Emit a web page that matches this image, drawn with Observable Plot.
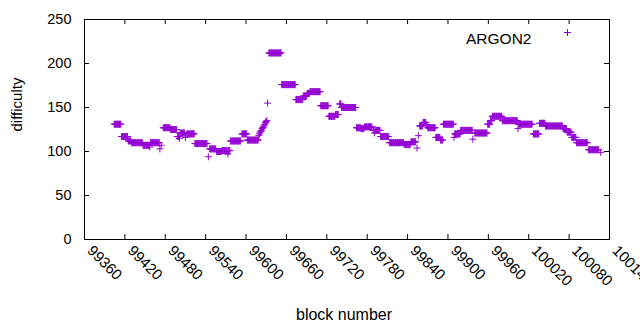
<!DOCTYPE html>
<html>
<head>
<meta charset="utf-8">
<script src="https://cdn.jsdelivr.net/npm/d3@7"></script>
<script src="https://cdn.jsdelivr.net/npm/@observablehq/plot@0.6"></script>
<style>
  html, body { margin: 0; padding: 0; background: #fff; }
  #chart svg { display: block; font-family: "Liberation Sans", Arial, sans-serif; }
</style>
</head>
<body>
<div id="chart"></div>
<script>
// Runs of constant difficulty: first block, last block, value
const runStart = [99404,99415,99425,99430,99447,99457,99458,99472,99474,99477,99488,99498,99501,99502,99510,99512,99524,99544,99546,99556,99564,99573,99574,99577,99594,99602,99619,99620,99621,99622,99623,99624,99625,99626,99627,99628,99629,99630,99631,99632,99634,99653,99674,99685,99691,99695,99711,99723,99733,99739,99742,99764,99771,99776,99789,99791,99792,99800,99813,99835,99845,99854,99856,99858,99863,99868,99870,99882,99889,99893,99909,99910,99919,99937,99940,99959,99963,99966,99981,100004,100005,100027,100036,100045,100071,100077,100084,100091,100109,100127];
const runEnd   = [99414,99424,99429,99446,99456,99457,99471,99472,99474,99487,99497,99500,99501,99509,99510,99523,99542,99544,99555,99563,99572,99573,99576,99592,99601,99618,99619,99620,99621,99622,99623,99624,99625,99626,99627,99628,99629,99630,99631,99632,99652,99673,99684,99690,99694,99710,99722,99732,99737,99741,99763,99770,99775,99787,99790,99791,99799,99812,99834,99844,99852,99854,99856,99862,99867,99869,99881,99888,99892,99908,99909,99918,99936,99937,99958,99962,99965,99980,100003,100004,100025,100035,100044,100070,100076,100083,100090,100107,100124,100127];
const runValue = [131,117,112,110,107,105,110,103,107,127,125,117,115,121,116,120,109,94,103,100,101,97,101,112,120,113,118,120,122,123,124,126,127,128,130,131,133,134,135,155,212,176,159,163,166,168,152,140,142,154,150,127,126,128,124,121,124,117,110,108,111,104,118,129,133,130,127,116,113,131,116,120,124,114,121,131,135,140,135,126,131,120,132,129,126,122,116,110,102,99];

const xTicks = [99360,99420,99480,99540,99600,99660,99720,99780,99840,99900,99960,100020,100080,100140];
const yTicks = [0,50,100,150,200,250];
const seriesName = "ARGON2";
const xLabel = "block number";
const yLabel = "difficulty";

const data = [];
runStart.forEach((s, i) => {
  for (let b = s; b <= runEnd[i]; b++) data.push({block: b, difficulty: runValue[i]});
});

const plus = {
  draw(context, size) {
    const r = Math.sqrt(size / Math.PI);
    context.moveTo(-r, 0); context.lineTo(r, 0);
    context.moveTo(0, -r); context.lineTo(0, r);
  }
};
const color = "#9400D3";

const chart = Plot.plot({
  width: 640,
  height: 330,
  marginLeft: 84,
  marginRight: 31,
  marginTop: 19,
  marginBottom: 91,
  style: {fontFamily: "Liberation Sans, Arial, sans-serif", fontSize: "14px", background: "#fff"},
  x: {domain: [99360, 100140], axis: null},
  y: {domain: [0, 250], axis: null},
  marks: [
    Plot.dot(data, {x: "block", y: "difficulty", symbol: plus, r: 3.5, stroke: color, strokeWidth: 1, fill: "none"}),
    // ticks (inward, mirrored)
    Plot.ruleX(xTicks, {x: d => d, insetTop: 215, stroke: "black"}),
    Plot.ruleX(xTicks, {x: d => d, insetBottom: 215, stroke: "black"}),
    Plot.ruleY(yTicks, {y: d => d, insetRight: 520, stroke: "black"}),
    Plot.ruleY(yTicks, {y: d => d, insetLeft: 520, stroke: "black"}),
    Plot.frame({stroke: "black"}),
    // tick labels
    Plot.text(yTicks, {y: d => d, frameAnchor: "left", text: d => String(d), textAnchor: "end", dx: -13, fontSize: 14.5, fill: "black"}),
    Plot.text(xTicks, {x: d => d, frameAnchor: "bottom", text: d => String(d), rotate: 45, textAnchor: "start", dx: 2, dy: 12, fontSize: 15, fill: "black"}),
    // axis titles
    Plot.text([xLabel], {frameAnchor: "bottom", text: d => d, dy: 80, dx: -3, fontSize: 16, fill: "black"}),
    Plot.text([yLabel], {frameAnchor: "left", text: d => d, rotate: -90, dx: -67, dy: 2, fontSize: 15, fill: "black"}),
    // legend
    Plot.text([seriesName], {frameAnchor: "top-right", text: d => d, textAnchor: "end", dx: -78, dy: 13, fontSize: 15.5, fill: "black"}),
    Plot.dot([seriesName], {frameAnchor: "top-right", dx: -42, dy: 13, symbol: plus, r: 3.5, stroke: color, strokeWidth: 1, fill: "none"})
  ]
});
document.getElementById("chart").appendChild(chart);
</script>
</body>
</html>
